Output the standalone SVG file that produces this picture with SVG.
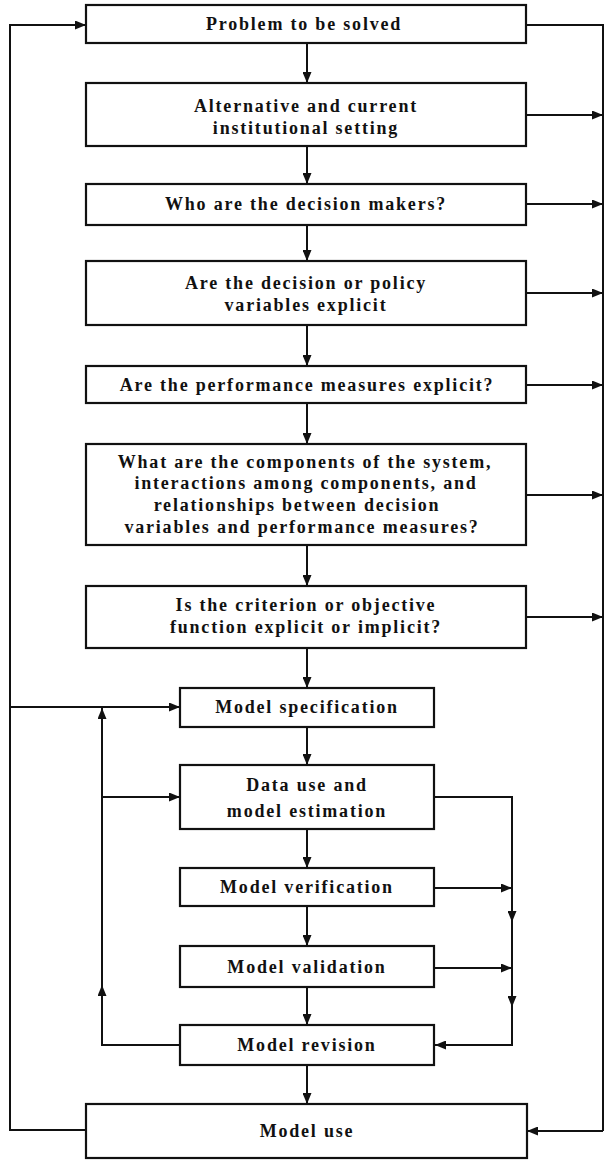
<svg xmlns="http://www.w3.org/2000/svg" width="605" height="1161" viewBox="0 0 605 1161">
<style>
.box{fill:#fff;stroke:#111;stroke-width:2.2}
.ln{fill:none;stroke:#111;stroke-width:2}
text{font-family:"Liberation Serif","Times New Roman",serif;font-weight:bold;font-size:18px;fill:#111;text-anchor:middle;letter-spacing:1.8px}
</style>
<defs>
<marker id="ah" markerUnits="userSpaceOnUse" markerWidth="11" markerHeight="9" refX="11" refY="4.5" orient="auto">
<path d="M0,0 L11,4.5 L0,9 z" fill="#111"/>
</marker>
</defs>
<rect width="605" height="1161" fill="#fff"/>
<g id="connectors">
<line class="ln" x1="307" y1="43" x2="307" y2="83" marker-end="url(#ah)"/>
<line class="ln" x1="307" y1="146" x2="307" y2="184" marker-end="url(#ah)"/>
<line class="ln" x1="307" y1="225" x2="307" y2="261" marker-end="url(#ah)"/>
<line class="ln" x1="307" y1="325" x2="307" y2="366" marker-end="url(#ah)"/>
<line class="ln" x1="307" y1="403" x2="307" y2="444" marker-end="url(#ah)"/>
<line class="ln" x1="307" y1="545" x2="307" y2="586" marker-end="url(#ah)"/>
<line class="ln" x1="307" y1="648" x2="307" y2="688" marker-end="url(#ah)"/>
<line class="ln" x1="307" y1="727" x2="307" y2="765" marker-end="url(#ah)"/>
<line class="ln" x1="307" y1="829" x2="307" y2="868" marker-end="url(#ah)"/>
<line class="ln" x1="307" y1="906" x2="307" y2="946" marker-end="url(#ah)"/>
<line class="ln" x1="307" y1="987" x2="307" y2="1025" marker-end="url(#ah)"/>
<line class="ln" x1="307" y1="1065" x2="307" y2="1104" marker-end="url(#ah)"/>
<polyline class="ln" points="526,25 603,25 603,1131"/>
<line class="ln" x1="526" y1="115" x2="603" y2="115" marker-end="url(#ah)"/>
<line class="ln" x1="526" y1="204" x2="603" y2="204" marker-end="url(#ah)"/>
<line class="ln" x1="526" y1="293" x2="603" y2="293" marker-end="url(#ah)"/>
<line class="ln" x1="526" y1="385" x2="603" y2="385" marker-end="url(#ah)"/>
<line class="ln" x1="526" y1="495" x2="603" y2="495" marker-end="url(#ah)"/>
<line class="ln" x1="526" y1="617" x2="603" y2="617" marker-end="url(#ah)"/>
<line class="ln" x1="603" y1="1131" x2="527" y2="1131" marker-end="url(#ah)"/>
<polyline class="ln" points="86,1130 10,1130 10,25 86,25" marker-end="url(#ah)"/>
<line class="ln" x1="10" y1="707" x2="180" y2="707" marker-end="url(#ah)"/>
<polyline class="ln" points="180,1045 102,1045 102,985" marker-end="url(#ah)"/>
<line class="ln" x1="102" y1="985" x2="102" y2="708" marker-end="url(#ah)"/>
<line class="ln" x1="102" y1="797" x2="180" y2="797" marker-end="url(#ah)"/>
<polyline class="ln" points="434,797 512,797 512,922" marker-end="url(#ah)"/>
<line class="ln" x1="512" y1="922" x2="512" y2="1007" marker-end="url(#ah)"/>
<polyline class="ln" points="512,1007 512,1045 435,1045" marker-end="url(#ah)"/>
<line class="ln" x1="434" y1="888" x2="512" y2="888" marker-end="url(#ah)"/>
<line class="ln" x1="434" y1="968" x2="512" y2="968" marker-end="url(#ah)"/>
</g>
<g id="n1"><rect class="box" x="86" y="5" width="440" height="38"/><text x="304" y="30">Problem to be solved</text></g>
<g id="n2"><rect class="box" x="86" y="83" width="440" height="63"/><text x="306" y="112">Alternative and current</text><text x="306" y="134">institutional setting</text></g>
<g id="n3"><rect class="box" x="86" y="184" width="440" height="41"/><text x="306" y="210">Who are the decision makers?</text></g>
<g id="n4"><rect class="box" x="86" y="261" width="440" height="64"/><text x="306" y="289">Are the decision or policy</text><text x="306" y="311">variables explicit</text></g>
<g id="n5"><rect class="box" x="86" y="366" width="440" height="37"/><text x="307" y="391">Are the performance measures explicit?</text></g>
<g id="n6"><rect class="box" x="86" y="444" width="440" height="101"/><text x="305" y="468">What are the components of the system,</text><text x="306" y="489">interactions among components, and</text><text x="297" y="511">relationships between decision</text><text x="302" y="533">variables and performance measures?</text></g>
<g id="n7"><rect class="box" x="86" y="586" width="440" height="62"/><text x="306" y="611">Is the criterion or objective</text><text x="306" y="633">function explicit or implicit?</text></g>
<g id="n8"><rect class="box" x="180" y="688" width="254" height="39"/><text x="307" y="713">Model specification</text></g>
<g id="n9"><rect class="box" x="180" y="765" width="254" height="64"/><text x="307" y="791">Data use and</text><text x="307" y="817">model estimation</text></g>
<g id="n10"><rect class="box" x="180" y="868" width="254" height="38"/><text x="307" y="893">Model verification</text></g>
<g id="n11"><rect class="box" x="180" y="946" width="254" height="41"/><text x="307" y="973">Model validation</text></g>
<g id="n12"><rect class="box" x="180" y="1025" width="254" height="40"/><text x="307" y="1051">Model revision</text></g>
<g id="n13"><rect class="box" x="86" y="1104" width="441" height="54"/><text x="307" y="1137">Model use</text></g>
</svg>
